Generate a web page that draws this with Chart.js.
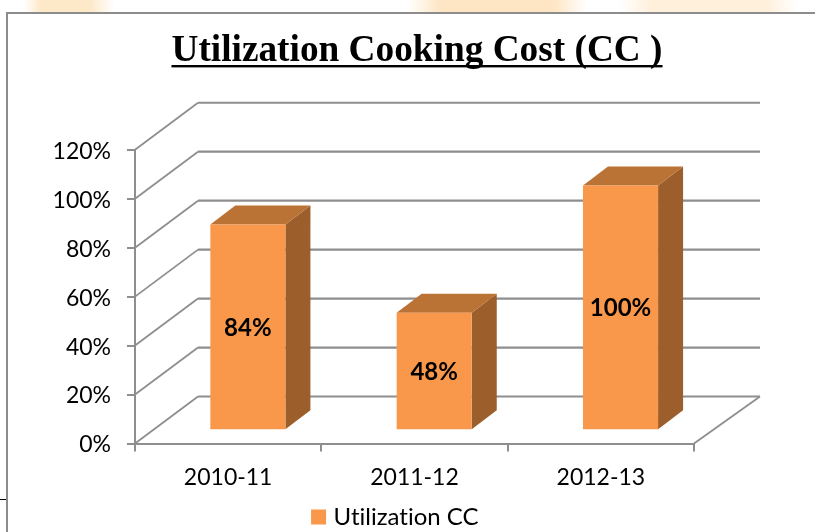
<!DOCTYPE html>
<html><head><meta charset="utf-8">
<style>html,body{margin:0;padding:0;background:#fff}#w{width:815px;height:532px}canvas{display:block}</style>
<script src="https://cdn.jsdelivr.net/npm/chart.js@4"></script>
</head><body><div id="w"><canvas id="c" width="815" height="532"></canvas></div>
<script>
const categories = ["2010-11","2011-12","2012-13"];
const seriesName = "Utilization CC";
const values = [84,48,100];
const titleText = "Utilization Cooking Cost (CC )";
const GRAY = "#8e8e8e";
const BARCOLOR = "#f9984a";
const WALL = {dx:63, dy:47, extra:3};   // depth of the back wall
const BAR = {dx:19.7, dy:13.3, sx:25, sy:19}; // bar offset in the floor and its depth

const frame = {
  id:"frame",
  afterLayout(ch){
    ch.titleBlock.left+=70; ch.titleBlock.right+=70;
    ch.legend.left+=50.5; ch.legend.right+=50.5;
  },
  beforeDraw(ch){
    const c=ch.ctx;
    c.textRendering="optimizeSpeed";
    c.save();
    const g=c.createLinearGradient(0,0,815,0);
    [[0,"#fff"],[.03,"#fff"],[.05,"#fde8c8"],[.11,"#fde8c8"],[.14,"#fff"],[.5,"#fff"],[.54,"#fee6c4"],[.68,"#fee6c4"],[.72,"#fff"],
     [.76,"#fff"],[.8,"#fff0dc"],[.94,"#fff0dc"],[.98,"#fff"],[1,"#fff"]].forEach(s=>g.addColorStop(s[0],s[1]));
    c.fillStyle=g;c.fillRect(0,0,815,12);
    c.strokeStyle="#8c8c8c";c.lineWidth=2;
    c.beginPath();c.moveTo(7,532);c.lineTo(7,13);c.lineTo(815,13);c.stroke();
    c.strokeStyle="#000";c.lineWidth=1;c.beginPath();c.moveTo(0,499.5);c.lineTo(6,499.5);c.stroke();
    c.restore();
  },
  beforeDatasetsDraw(ch){
    const c=ch.ctx,y=ch.scales.y,x=ch.scales.x; c.save();
    c.strokeStyle=GRAY;
    y.ticks.forEach(t=>{
      const py=y.getPixelForValue(t.value);
      c.lineWidth=1.8;
      c.beginPath();c.moveTo(x.left,py);c.lineTo(x.left+WALL.dx,py-WALL.dy);c.stroke();
      c.lineWidth=2.2;
      c.beginPath();c.moveTo(x.left+WALL.dx,py-WALL.dy);c.lineTo(x.right+WALL.dx+WALL.extra,py-WALL.dy);c.stroke();
    });
    const p0=y.getPixelForValue(0);
    c.lineWidth=1.8;
    c.beginPath();c.moveTo(x.right,p0);c.lineTo(x.right+WALL.dx+WALL.extra,p0-WALL.dy);c.stroke();
    c.restore();
  },
  beforeDatasetDraw(ch){
    const c=ch.ctx;c.save();c.translate(BAR.dx,-BAR.dy);
    ch.getDatasetMeta(0).data.forEach(b=>{
      const l=b.x-b.width/2,r=b.x+b.width/2;
      c.fillStyle="#9c5f2c";c.beginPath();
      c.moveTo(r,b.y);c.lineTo(r+BAR.sx,b.y-BAR.sy);c.lineTo(r+BAR.sx,b.base-BAR.sy);c.lineTo(r,b.base);c.closePath();c.fill();
      c.fillStyle="#bb7235";c.beginPath();
      c.moveTo(l,b.y);c.lineTo(l+BAR.sx,b.y-BAR.sy);c.lineTo(r+BAR.sx,b.y-BAR.sy);c.lineTo(r,b.y);c.closePath();c.fill();
    });
  },
  afterDatasetDraw(ch){
    const c=ch.ctx;
    c.fillStyle="#000";c.font="bold 24px Lato";c.textAlign="center";c.textBaseline="middle";
    ch.getDatasetMeta(0).data.forEach((b,i)=>{
      c.fillText(values[i]+"%",b.x,(b.y+b.base)/2+1);
    });
    c.restore();
  },
  afterDraw(ch){
    const c=ch.ctx,t=ch.titleBlock;c.save();
    c.font=Chart.helpers.toFont(t.options.font).string;
    const w=c.measureText(titleText).width,cx=(t.left+t.right)/2;
    c.fillStyle="#000";c.fillRect(cx-w/2,65,w,2.4);
    c.restore();
  }
};

new Chart(document.getElementById("c"),{
  type:"bar",
  data:{labels:categories,datasets:[{label:seriesName,data:values,backgroundColor:BARCOLOR,borderWidth:0,barPercentage:.403,categoryPercentage:1}]},
  plugins:[frame],
  options:{
    responsive:false,animation:false,
    layout:{padding:{left:0,right:121,top:29,bottom:-7}},
    plugins:{
      title:{display:true,text:titleText,color:"#000",font:{family:"'Liberation Serif'",size:37.3,weight:"bold"},padding:{top:0,bottom:76},position:"top"},
      legend:{position:"bottom",labels:{boxWidth:6,boxHeight:6,padding:3,color:"#000",font:{family:"Lato",size:24},
        generateLabels:()=>[{text:seriesName,fillStyle:BARCOLOR,strokeStyle:BARCOLOR,lineWidth:9,datasetIndex:0}]}},
      tooltip:{enabled:false}
    },
    scales:{
      x:{afterFit(s){s.height=58.5;},grid:{drawOnChartArea:false,color:GRAY,lineWidth:2,tickLength:8,offset:true},border:{color:GRAY,width:2},
         ticks:{color:"#000",font:{family:"Lato",size:23},padding:12,maxRotation:0}},
      y:{min:0,max:120,afterFit(s){s.width=135;},grid:{drawOnChartArea:false,color:GRAY,lineWidth:2,tickLength:8},border:{color:GRAY,width:2},
         ticks:{stepSize:20,color:"#000",font:{family:"Lato",size:23},padding:16,labelOffset:1.5,callback:v=>v+"%"}}
    }
  }
});
</script></body></html>
